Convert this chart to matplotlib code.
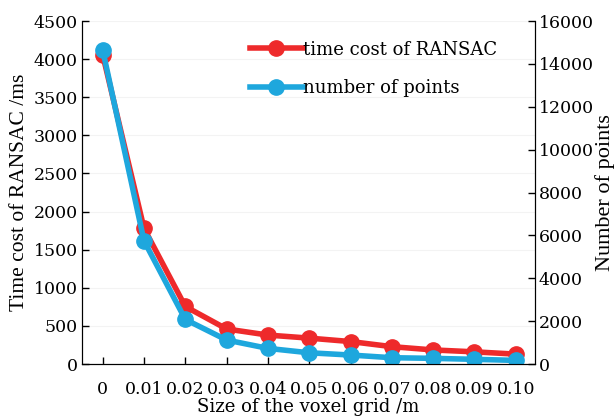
import matplotlib
matplotlib.use("Agg")
import matplotlib.pyplot as plt

# voxel grid size vs RANSAC time and remaining points
voxel_size = [0, 0.01, 0.02, 0.03, 0.04, 0.05, 0.06, 0.07, 0.08, 0.09, 0.10]
x_labels = ["0", "0.01", "0.02", "0.03", "0.04", "0.05", "0.06", "0.07", "0.08", "0.09", "0.10"]
time_cost = [4060, 1780, 755, 460, 380, 340, 295, 228, 185, 160, 130]
num_points = [14650, 5750, 2080, 1120, 730, 525, 420, 295, 265, 220, 170]

red = "#ee2a2b"
blue = "#1ea7dd"

plt.rcParams["font.family"] = ["DejaVu Serif"]

fig = plt.figure(figsize=(6.14, 4.17), dpi=100)
ax = fig.add_axes([0.1336, 0.127, 0.7374, 0.8226])
ax2 = ax.twinx()

l1, = ax.plot(voxel_size, time_cost, color=red, lw=4, marker="o", ms=11,
              label="time cost of RANSAC")
l2, = ax2.plot(voxel_size, num_points, color=blue, lw=4, marker="o", ms=11,
               label="number of points")

ax.set_xlim(-0.005, 0.1046)
ax.set_ylim(0, 4500)
ax2.set_ylim(0, 16000)
ax.set_xticks(voxel_size)
ax.set_xticklabels(x_labels)
ax.set_yticks(range(0, 4501, 500))
ax2.set_yticks(range(0, 16001, 2000))

for a in (ax, ax2):
    a.spines["top"].set_visible(False)
    a.tick_params(direction="in", length=5, width=1, labelsize=12.5, pad=3)
ax.tick_params(axis="x", labelsize=12.5, pad=12)
ax.yaxis.grid(True, color="#f3f3f3", lw=0.8)

ax.set_xlabel("Size of the voxel grid /m", fontsize=13, labelpad=0)
ax.set_ylabel("Time cost of RANSAC /ms", fontsize=15.5, labelpad=3,
              family="Liberation Serif")
ax2.set_ylabel("Number of points", fontsize=16, labelpad=1,
               family="Liberation Serif")

ax2.legend([l1, l2], [l1.get_label(), l2.get_label()], loc="upper left",
           bbox_to_anchor=(0.3356, 0.99), frameon=False, fontsize=13,
           handlelength=2.9, handletextpad=0.0, labelspacing=1.15)

fig.savefig("out.png", dpi=100)
